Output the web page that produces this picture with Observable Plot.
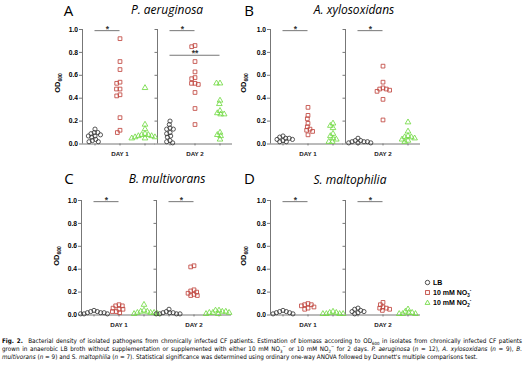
<!DOCTYPE html>
<html><head><meta charset="utf-8">
<script src="https://cdn.jsdelivr.net/npm/d3@7"></script>
<script src="https://cdn.jsdelivr.net/npm/@observablehq/plot@0.6"></script>
<style>
body{margin:0;background:#fff;}
#root{position:relative;width:524px;height:366px;overflow:hidden;font-family:"Open Sans",sans-serif;color:#000;}
.abs{position:absolute;}
.letter{font-size:15px;transform:translate(-50%,-50%);line-height:1;}
.title{font-size:12px;font-style:italic;transform:translate(-50%,-50%);white-space:nowrap;line-height:1;}
.ylab{font-family:"Liberation Sans",Arial,sans-serif;font-weight:bold;font-size:7.5px;transform:translate(-50%,-50%) rotate(-90deg);white-space:nowrap;line-height:1;}
.ylab sub{font-size:5px;vertical-align:-1.5px;line-height:0;}
.legend{font-family:"Liberation Sans",Arial,sans-serif;font-weight:bold;font-size:7px;line-height:10px;white-space:nowrap;}
.legend svg{vertical-align:-1px;margin-right:2px;}
.legend sub,.legend sup{font-size:4.5px;line-height:0;}
.caption{left:2px;width:520px;top:337px;font-family:"Liberation Sans Narrow","DejaVu Sans Condensed","Liberation Sans",sans-serif;font-size:6.3px;line-height:8px;color:#000;}
.caption div{text-align:justify;text-align-last:justify;white-space:normal;}
.caption div.last{text-align-last:left;}
.caption sub,.caption sup{font-size:4.3px;line-height:0;}
</style></head>
<body><div id="root"></div>
<script>
const days = ["DAY 1", "DAY 2"];
const groups = ["LB", "NO3", "NO2"];
const colors = ["#3a3a3a", "#c0463e", "#72da45"];
const yTicks = [0, 0.2, 0.4, 0.6, 0.8, 1.0];

// Panel A – P. aeruginosa (n = 12)
const A_d1_LB  = [0.13, 0.10, 0.10, 0.09, 0.08, 0.07, 0.07, 0.06, 0.04, 0.03, 0.02, 0.02];
const A_d1_NO3 = [0.92, 0.72, 0.65, 0.54, 0.53, 0.48, 0.48, 0.43, 0.42, 0.23, 0.12, 0.10];
const A_d1_NO2 = [0.49, 0.17, 0.13, 0.09, 0.08, 0.08, 0.07, 0.07, 0.06, 0.06, 0.05, 0.05];
const A_d2_LB  = [0.20, 0.17, 0.14, 0.13, 0.13, 0.10, 0.09, 0.07, 0.06, 0.03, 0.02, 0.01];
const A_d2_NO3 = [0.86, 0.85, 0.72, 0.63, 0.58, 0.57, 0.53, 0.53, 0.52, 0.45, 0.31, 0.17];
const A_d2_NO2 = [0.53, 0.53, 0.38, 0.35, 0.29, 0.27, 0.26, 0.26, 0.10, 0.08, 0.07, 0.04];
// Panel B – A. xylosoxidans (n = 9)
const B_d1_LB  = [0.07, 0.06, 0.05, 0.05, 0.04, 0.04, 0.03, 0.02, 0.02];
const B_d1_NO3 = [0.32, 0.25, 0.22, 0.18, 0.15, 0.13, 0.12, 0.11, 0.08];
const B_d1_NO2 = [0.18, 0.16, 0.14, 0.09, 0.07, 0.05, 0.04, 0.02, 0.02];
const B_d2_LB  = [0.05, 0.03, 0.03, 0.02, 0.02, 0.02, 0.01, 0.01, 0.01];
const B_d2_NO3 = [0.68, 0.54, 0.49, 0.48, 0.48, 0.47, 0.46, 0.39, 0.21];
const B_d2_NO2 = [0.19, 0.11, 0.07, 0.06, 0.06, 0.05, 0.04, 0.03, 0.02];
// Panel C – B. multivorans (n = 9)
const C_d1_LB  = [0.04, 0.03, 0.03, 0.02, 0.02, 0.02, 0.01, 0.01, 0.01];
const C_d1_NO3 = [0.09, 0.08, 0.08, 0.06, 0.05, 0.05, 0.03, 0.03, 0.02];
const C_d1_NO2 = [0.09, 0.04, 0.03, 0.03, 0.02, 0.02, 0.02, 0.01, 0.01];
const C_d2_LB  = [0.05, 0.03, 0.02, 0.02, 0.02, 0.01, 0.01, 0.01, 0.01];
const C_d2_NO3 = [0.43, 0.42, 0.22, 0.21, 0.20, 0.19, 0.18, 0.17, 0.17];
const C_d2_NO2 = [0.04, 0.04, 0.03, 0.03, 0.02, 0.02, 0.02, 0.01, 0.01];
// Panel D – S. maltophilia (n = 7)
const D_d1_LB  = [0.04, 0.03, 0.03, 0.02, 0.02, 0.01, 0.01];
const D_d1_NO3 = [0.10, 0.09, 0.09, 0.08, 0.07, 0.06, 0.05];
const D_d1_NO2 = [0.03, 0.02, 0.02, 0.01, 0.01, 0.01, 0.01];
const D_d2_LB  = [0.06, 0.05, 0.04, 0.03, 0.03, 0.02, 0.01];
const D_d2_NO3 = [0.11, 0.09, 0.07, 0.06, 0.06, 0.05, 0.04];
const D_d2_NO2 = [0.05, 0.03, 0.02, 0.02, 0.01, 0.01, 0.01];

// significance brackets
const sigA = [
  {day: "DAY 1", from: "LB", to: "NO3", y: 0.99, label: "*"},
  {day: "DAY 2", from: "LB", to: "NO3", y: 0.99, label: "*"},
  {day: "DAY 2", from: "LB", to: "NO2", y: 0.775, label: "**"}
];
const sigB = [
  {day: "DAY 1", from: "LB", to: "NO3", y: 0.99, label: "*"},
  {day: "DAY 2", from: "LB", to: "NO3", y: 0.99, label: "*"}
];
const sigC = sigB, sigD = sigB;

const panels = [
  {id: "A", title: "P. aeruginosa", axisX: 82, top: 0, fw: 25,
   values: [[A_d1_LB, A_d1_NO3, A_d1_NO2], [A_d2_LB, A_d2_NO3, A_d2_NO2]], sig: sigA,
   letter: [68.5, 10], titlePos: [167, 10], ylab: [58, 83]},
  {id: "B", title: "A. xylosoxidans", axisX: 268, top: 0, fw: 25.5,
   values: [[B_d1_LB, B_d1_NO3, B_d1_NO2], [B_d2_LB, B_d2_NO3, B_d2_NO2]], sig: sigB,
   letter: [249, 10], titlePos: [354, 10], ylab: [244, 83]},
  {id: "C", title: "B. multivorans", axisX: 81, top: 171, fw: 25,
   values: [[C_d1_LB, C_d1_NO3, C_d1_NO2], [C_d2_LB, C_d2_NO3, C_d2_NO2]], sig: sigC,
   letter: [69, 178], titlePos: [167, 179], ylab: [57, 256]},
  {id: "D", title: "S. maltophilia", axisX: 268, top: 171, fw: 25.5,
   values: [[D_d1_LB, D_d1_NO3, D_d1_NO2], [D_d2_LB, D_d2_NO3, D_d2_NO2]], sig: sigD,
   letter: [249.5, 178], titlePos: [350, 180], ylab: [244, 256]}
];

const ML = 22, MR = 2, H = 164, MT = 29, MB = 20.5;
const AXIS = "#777";
const root = document.getElementById("root");

function buildPanel(p) {
  const keys = days.flatMap(d => groups.map(g => `${d}|${g}`));
  const rows = [];
  days.forEach((d, di) => groups.forEach((g, gi) =>
    p.values[di][gi].forEach(v => rows.push({key: `${d}|${g}`, group: g, od: v}))));
  const segs = [], stars = [];
  p.sig.forEach(s => {
    const a = groups.indexOf(s.from), b = groups.indexOf(s.to);
    for (let i = a; i <= b; i++)
      segs.push({key: `${s.day}|${groups[i]}`, x1: i === a ? 0.5 : 0, x2: i === b ? 0.5 : 1, y: s.y});
    const mid = (a + b) / 2 + 0.5;
    const fi = Math.min(Math.floor(mid), 2);
    stars.push({key: `${s.day}|${groups[fi]}`, x: mid - fi, y: s.y, label: s.label});
  });
  const d2ticks = yTicks.map(t => ({key: "DAY 2|LB", t}));
  const dayLabels = days.map(d => ({key: `${d}|NO3`, label: d}));
  const lastD1 = "DAY 1|NO2";

  const svg = Plot.plot({
    width: ML + MR + 6 * p.fw, height: H,
    marginLeft: ML, marginRight: MR, marginTop: MT, marginBottom: MB,
    fx: {domain: keys, padding: 0, axis: null, label: null},
    x: {domain: [0, 1], axis: null},
    y: {domain: [0, 1]},
    symbol: {domain: groups, range: ["circle", "square", "triangle"]},
    color: {domain: groups, range: colors},
    style: {fontFamily: "'Liberation Sans', Arial, sans-serif", overflow: "visible", background: "transparent"},
    marks: [
      Plot.axisY({ticks: yTicks, tickFormat: d3.format(".1f"), tickSize: 3, tickPadding: 1.5,
                  fontSize: 6.7, fontWeight: "bold", stroke: AXIS, label: null}),
      Plot.ruleY(d2ticks, {fx: "key", y: "t", x1: 0, x2: 0, insetLeft: -2.5, stroke: AXIS}),
      Plot.ruleX(days.map(d => `${d}|LB`), {fx: d => d, x: 0, y1: 0, y2: 1, stroke: AXIS}),
      Plot.ruleY(keys.filter(k => k !== lastD1), {fx: d => d, y: 0, x1: 0, x2: 1, stroke: AXIS}),
      Plot.ruleY([lastD1], {fx: d => d, y: 0, x1: 0, x2: 1, insetRight: 2, stroke: AXIS}),
      Plot.ruleX(keys, {fx: d => d, x: 0.5, y1: 0, y2: -0.017, stroke: AXIS}),
      Plot.ruleY(segs, {fx: "key", y: "y", x1: "x1", x2: "x2", stroke: "#666", strokeWidth: 0.9}),
      Plot.text(stars, {fx: "key", x: "x", y: "y", text: "label", fontSize: 8.5, fontWeight: "bold", dy: -1.5, lineAnchor: "middle", fill: "#333"}),
      Plot.text(dayLabels, {fx: "key", x: 0.5, y: 0, text: "label", dy: 10, fontSize: 6.2, fontWeight: "bold", fill: "#222"}),
      Plot.dot(rows, Plot.dodgeX({anchor: "middle", padding: 0, r: 1.75},
        {fx: "key", y: "od", r: 2.1, symbol: "group", stroke: "group", fill: "none", strokeWidth: 0.85}))
    ]
  });
  svg.style.position = "absolute";
  svg.style.left = (p.axisX - ML) + "px";
  svg.style.top = p.top + "px";
  root.appendChild(svg);

  const mk = (cls, html, xy) => {
    const el = document.createElement("div");
    el.className = "abs " + cls;
    el.innerHTML = html;
    el.style.left = xy[0] + "px";
    el.style.top = xy[1] + "px";
    root.appendChild(el);
  };
  mk("letter", p.id, p.letter);
  mk("title", p.title, p.titlePos);
  mk("ylab", "OD<sub>600</sub>", p.ylab);
}
panels.forEach(buildPanel);

// legend
const legendItems = [
  {g: "LB", html: "LB"},
  {g: "NO3", html: "10 mM NO<sub>3</sub><sup>-</sup>"},
  {g: "NO2", html: "10 mM NO<sub>2</sub><sup>-</sup>"}
];
const shapes = {
  LB: c => `<circle cx="3.5" cy="3.5" r="2.2" fill="none" stroke="${c}" stroke-width="0.9"/>`,
  NO3: c => `<rect x="1.6" y="1.6" width="3.8" height="3.8" fill="none" stroke="${c}" stroke-width="0.9"/>`,
  NO2: c => `<path d="M3.5,1.1L5.9,5.4L1.1,5.4Z" fill="none" stroke="${c}" stroke-width="0.9"/>`
};
const leg = document.createElement("div");
leg.className = "abs legend";
leg.style.left = "424px";
leg.style.top = "278px";
leg.innerHTML = legendItems.map(it => {
  const c = colors[groups.indexOf(it.g)];
  return `<div><svg width="7" height="7">${shapes[it.g](c)}</svg>${it.html}</div>`;
}).join("");
root.appendChild(leg);

// caption
const cap = document.createElement("div");
cap.className = "abs caption";
cap.innerHTML =
  `<div><b>Fig. 2.</b>&nbsp; Bacterial density of isolated pathogens from chronically infected CF patients. Estimation of biomass according to OD<sub>600</sub> in isolates from chronically infected CF patients</div>` +
  `<div>grown in anaerobic LB broth without supplementation or supplemented with either 10 mM NO<sub>3</sub><sup>−</sup> or 10 mM NO<sub>2</sub><sup>−</sup> for 2 days. <i>P. aeruginosa</i> (<i>n</i> = 12), <i>A. xylosoxidans</i> (<i>n</i> = 9), <i>B.</i></div>` +
  `<div class="last"><i>multivorans</i> (<i>n</i> = 9) and S. <i>maltophilia</i> (<i>n</i> = 7). Statistical significance was determined using ordinary one-way ANOVA followed by Dunnett's multiple comparisons test.</div>`;
root.appendChild(cap);
</script>
</body></html>
